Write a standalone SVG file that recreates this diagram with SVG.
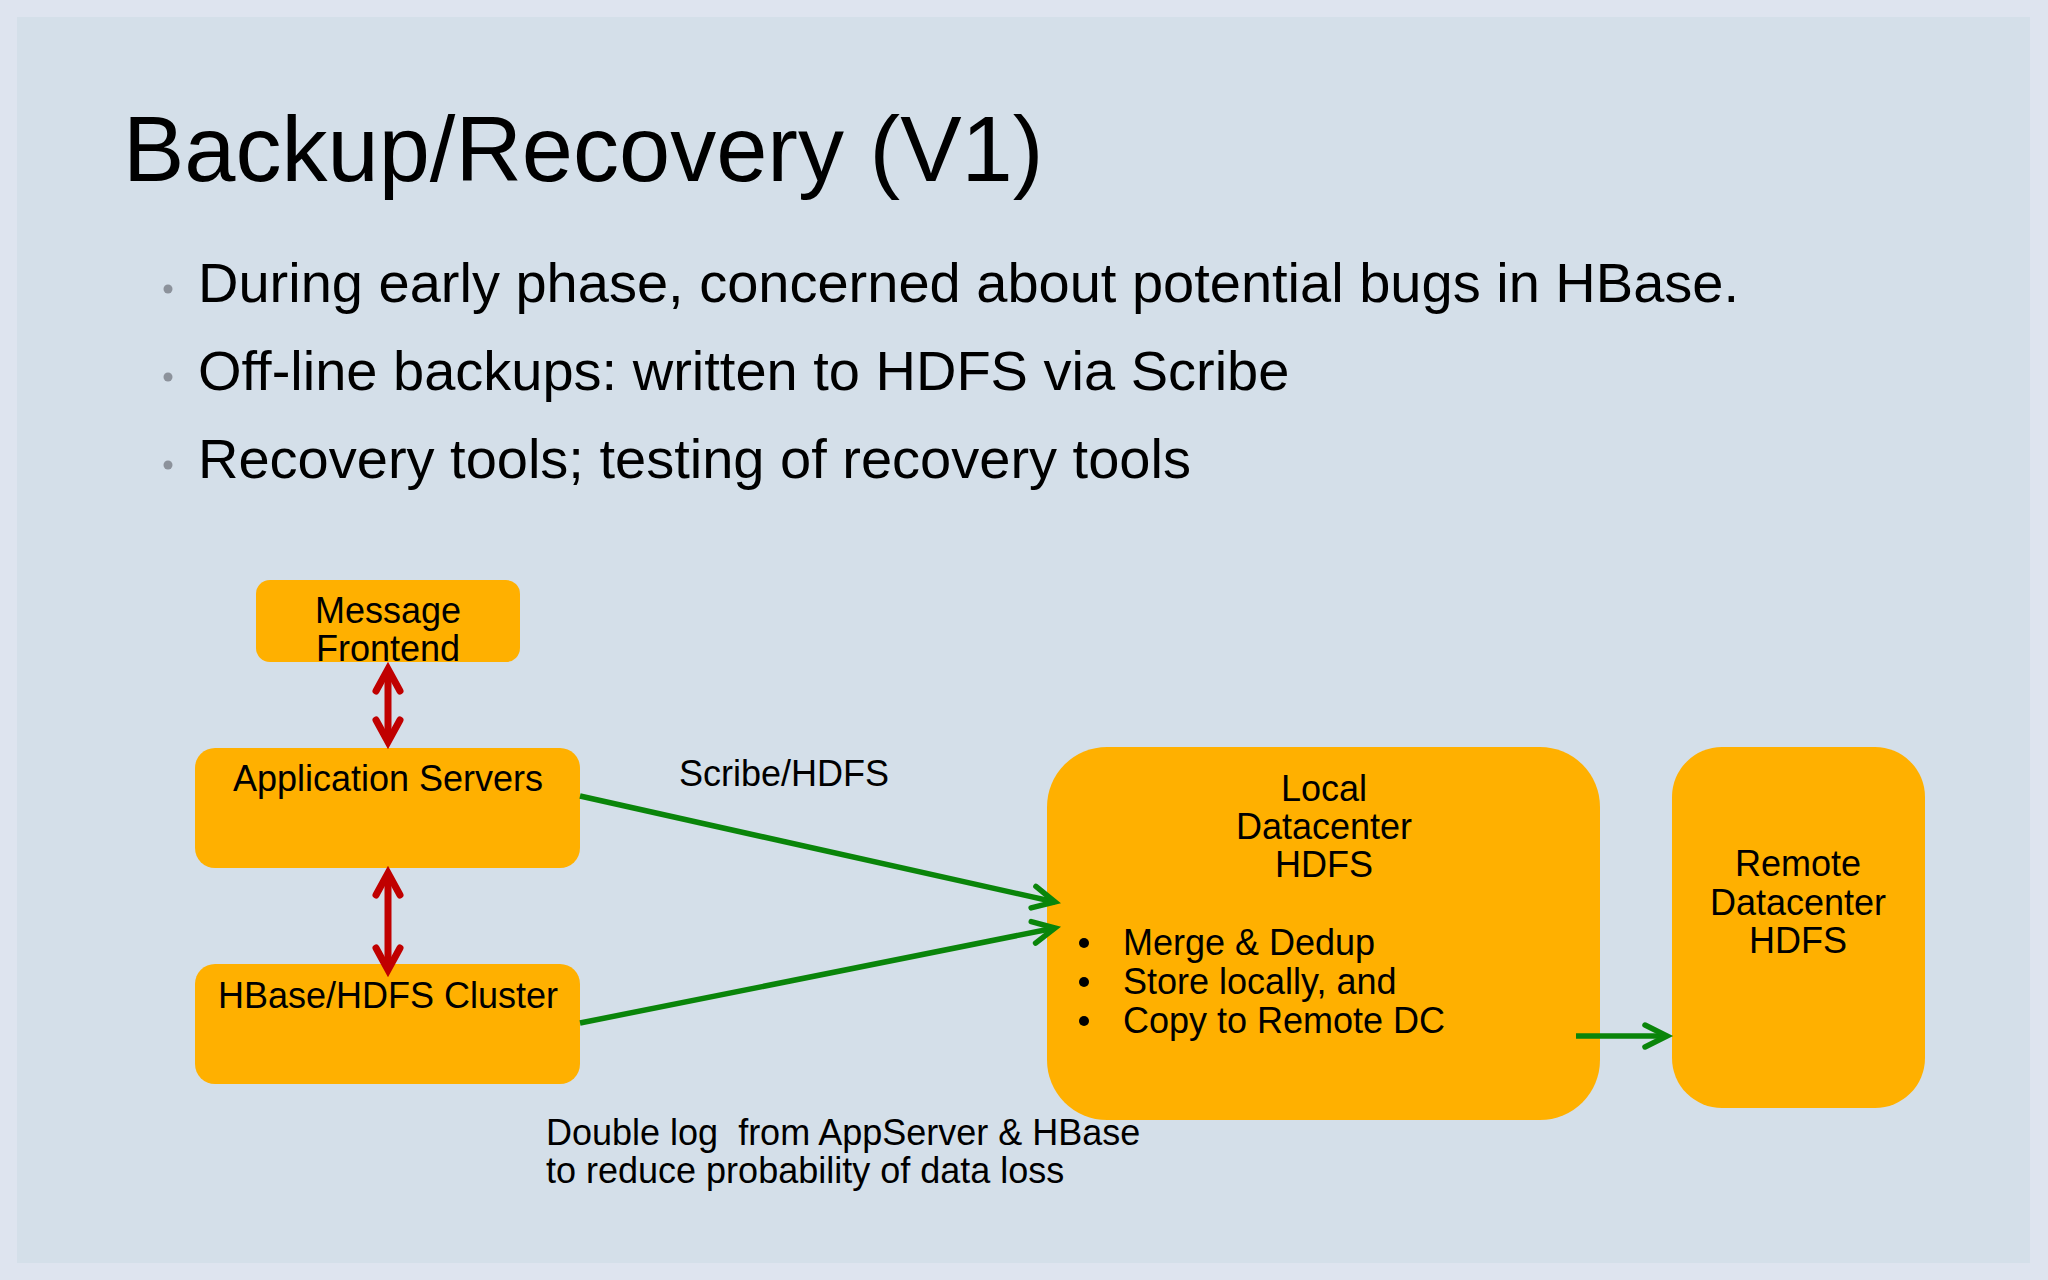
<svg xmlns="http://www.w3.org/2000/svg" width="2048" height="1280" viewBox="0 0 2048 1280">
<style>
  .txt { font-family: "Liberation Sans", Arial, sans-serif; fill: #000; }
  .title { font-size: 92px; }
  .bul { font-size: 56px; }
  .lbl { font-size: 36px; }
  .box { fill: #FFB000; }
  .red { stroke: #C00000; stroke-width: 7; fill: none; }
  .green { stroke: #0A850A; stroke-width: 5.5; fill: none; }
</style>
<defs>
  <marker id="redHead" viewBox="-40 -25 50 50" refX="0" refY="0" markerWidth="50" markerHeight="50" markerUnits="userSpaceOnUse" orient="auto-start-reverse">
    <path d="M -22 -12 L 0 0 L -22 12" fill="none" stroke="#C00000" stroke-width="7" stroke-linecap="round" stroke-linejoin="miter"/>
  </marker>
  <marker id="greenHead" viewBox="-40 -25 50 50" refX="0" refY="0" markerWidth="50" markerHeight="50" markerUnits="userSpaceOnUse" orient="auto">
    <path d="M -22 -11 L 0 0 L -22 11" fill="none" stroke="#0A850A" stroke-width="5.5" stroke-linecap="round" stroke-linejoin="miter"/>
  </marker>
</defs>

<rect x="0" y="0" width="2048" height="1280" fill="#DEE4EF"/>
<rect x="17" y="17" width="2013" height="1246" fill="#D4DFE9"/>

<g id="title">
  <text class="txt title" x="123" y="181">Backup/Recovery (V1)</text>
</g>

<g id="bullets">
  <circle cx="168" cy="289" r="4.5" fill="#8C929B"/>
  <text class="txt bul" x="198" y="302">During early phase, concerned about potential bugs in HBase.</text>
  <circle cx="168" cy="377" r="4.5" fill="#8C929B"/>
  <text class="txt bul" x="198" y="390">Off-line backups: written to HDFS via Scribe</text>
  <circle cx="168" cy="465" r="4.5" fill="#8C929B"/>
  <text class="txt bul" x="198" y="478">Recovery tools; testing of recovery tools</text>
</g>

<g id="message-frontend">
  <rect class="box" x="256" y="580" width="264" height="82" rx="14"/>
  <text class="txt lbl" x="388" y="623" text-anchor="middle">Message</text>
  <text class="txt lbl" x="388" y="661" text-anchor="middle">Frontend</text>
</g>

<g id="application-servers">
  <rect class="box" x="195" y="748" width="385" height="120" rx="20"/>
  <text class="txt lbl" x="388" y="791" text-anchor="middle">Application Servers</text>
</g>

<g id="hbase-cluster">
  <rect class="box" x="195" y="964" width="385" height="120" rx="20"/>
  <text class="txt lbl" x="388" y="1008" text-anchor="middle">HBase/HDFS Cluster</text>
</g>

<g id="local-dc">
  <rect class="box" x="1047" y="747" width="553" height="373" rx="60"/>
  <text class="txt lbl" x="1324" y="801" text-anchor="middle">Local</text>
  <text class="txt lbl" x="1324" y="839" text-anchor="middle">Datacenter</text>
  <text class="txt lbl" x="1324" y="877" text-anchor="middle">HDFS</text>
  <circle cx="1084" cy="943" r="5" fill="#000"/>
  <text class="txt lbl" x="1123" y="955">Merge &amp; Dedup</text>
  <circle cx="1084" cy="982" r="5" fill="#000"/>
  <text class="txt lbl" x="1123" y="994">Store locally, and</text>
  <circle cx="1084" cy="1021" r="5" fill="#000"/>
  <text class="txt lbl" x="1123" y="1033">Copy to Remote DC</text>
</g>

<g id="remote-dc">
  <rect class="box" x="1672" y="747" width="253" height="361" rx="50"/>
  <text class="txt lbl" x="1798" y="876" text-anchor="middle">Remote</text>
  <text class="txt lbl" x="1798" y="915" text-anchor="middle">Datacenter</text>
  <text class="txt lbl" x="1798" y="953" text-anchor="middle">HDFS</text>
</g>

<g id="labels">
  <text class="txt lbl" x="679" y="786">Scribe/HDFS</text>
  <text class="txt lbl" x="546" y="1145" xml:space="preserve" style="white-space: pre">Double log  from AppServer &amp; HBase</text>
  <text class="txt lbl" x="546" y="1183">to reduce probability of data loss</text>
</g>

<g id="connectors">
  <line class="red" x1="388" y1="669" x2="388" y2="742" marker-start="url(#redHead)" marker-end="url(#redHead)"/>
  <line class="red" x1="388" y1="873" x2="388" y2="970" marker-start="url(#redHead)" marker-end="url(#redHead)"/>
  <line class="green" x1="580" y1="796" x2="1055" y2="902" marker-end="url(#greenHead)"/>
  <line class="green" x1="580" y1="1023" x2="1055" y2="928" marker-end="url(#greenHead)"/>
  <line class="green" x1="1576" y1="1036" x2="1667" y2="1036" marker-end="url(#greenHead)"/>
</g>
</svg>
